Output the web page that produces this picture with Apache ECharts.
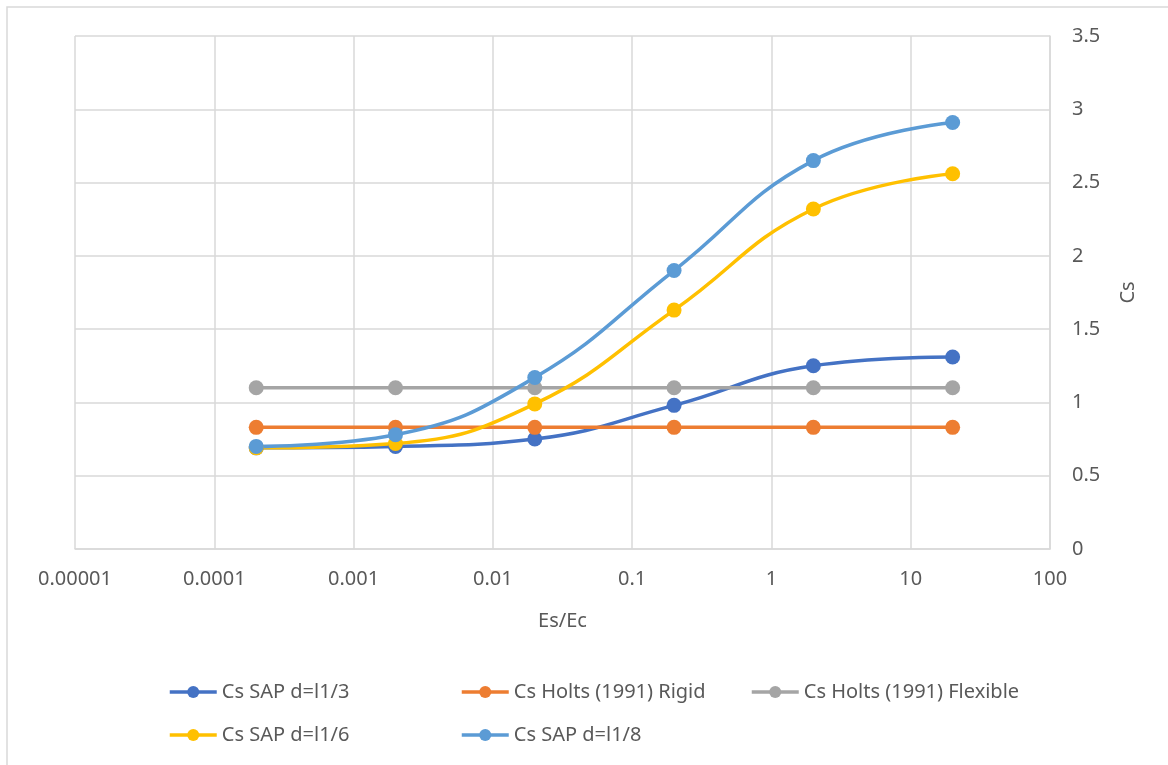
<!DOCTYPE html>
<html>
<head>
<meta charset="utf-8">
<script src="https://cdn.jsdelivr.net/npm/echarts@6/dist/echarts.min.js"></script>
<style>
  html, body { margin: 0; padding: 0; background: #fff; }
  #chart { width: 1168px; height: 765px; }
</style>
</head>
<body>
<div id="chart"></div>
<script>
// x values (Es/Ec) and the Cs values of each series
const esEc = [0.0002, 0.002, 0.02, 0.2, 2, 20];
const sapL3 = [0.69, 0.70, 0.75, 0.98, 1.25, 1.31];
const holtsRigid = [0.83, 0.83, 0.83, 0.83, 0.83, 0.83];
const holtsFlexible = [1.1, 1.1, 1.1, 1.1, 1.1, 1.1];
const sapL6 = [0.69, 0.72, 0.99, 1.63, 2.32, 2.56];
const sapL8 = [0.70, 0.78, 1.17, 1.90, 2.65, 2.91];

const seriesNames = ['Cs SAP d=l1/3', 'Cs Holts (1991) Rigid', 'Cs Holts (1991) Flexible', 'Cs SAP d=l1/6', 'Cs SAP d=l1/8'];
const seriesColors = ['#4472C4', '#ED7D31', '#A5A5A5', '#FFC000', '#5B9BD5'];
const xTickLabels = ['0.00001', '0.0001', '0.001', '0.01', '0.1', '1', '10', '100'];

const textColor = '#595959';
const gridColor = '#d9d9d9';
const font = 'Noto Sans';

function pairs(ys) {
  return esEc.map((x, i) => [x, ys[i]]);
}

const allData = [sapL3, holtsRigid, holtsFlexible, sapL6, sapL8];

const series = allData.map((ys, i) => ({
  name: seriesNames[i],
  type: 'line',
  data: pairs(ys),
  smooth: 0.45,
  symbol: 'circle',
  symbolSize: 15,
  color: seriesColors[i],
  lineStyle: { width: 3.5 }
}));

// one legend per entry, so the columns line up like the original
const legendSpots = [
  { left: 163, top: 677 },
  { left: 455, top: 677 },
  { left: 745, top: 677 },
  { left: 163, top: 720 },
  { left: 455, top: 720 }
];
const legends = seriesNames.map((n, i) => ({
  data: [n],
  left: legendSpots[i].left,
  top: legendSpots[i].top,
  itemWidth: 47,
  itemHeight: 15,
  itemGap: 0,
  lineStyle: { width: 3.5 },
  textStyle: { color: textColor, fontSize: 20, fontFamily: font }
}));

const chart = echarts.init(document.getElementById('chart'));
chart.setOption({
  animation: false,
  backgroundColor: '#fff',
  grid: { left: 75, right: 118, top: 36, bottom: 216 },
  legend: legends,
  graphic: [{
    type: 'rect',
    shape: { x: 7, y: 7, width: 1200, height: 800 },
    style: { fill: 'none', stroke: gridColor, lineWidth: 1.5 },
    silent: true
  }],
  xAxis: {
    type: 'log',
    logBase: 10,
    min: 0.00001,
    max: 100,
    name: 'Es/Ec',
    nameLocation: 'middle',
    nameGap: 62,
    nameTextStyle: { color: textColor, fontSize: 20, fontFamily: font },
    axisLine: { show: true, lineStyle: { color: gridColor, width: 1.5 } },
    axisTick: { show: false },
    splitLine: { show: true, lineStyle: { color: gridColor, width: 1.5 } },
    axisLabel: {
      color: textColor,
      fontSize: 20,
      fontFamily: font,
      margin: 20,
      formatter: v => xTickLabels[Math.round(Math.log10(v)) + 5]
    }
  },
  yAxis: {
    type: 'value',
    position: 'right',
    min: 0,
    max: 3.5,
    interval: 0.5,
    name: 'Cs',
    nameLocation: 'middle',
    nameGap: 68,
    nameRotate: 90,
    nameTextStyle: { color: textColor, fontSize: 20, fontFamily: font },
    axisLine: { show: true, lineStyle: { color: gridColor, width: 1.5 } },
    axisTick: { show: false },
    splitLine: { show: true, lineStyle: { color: gridColor, width: 1.5 } },
    axisLabel: { color: textColor, fontSize: 20, fontFamily: font, margin: 22 }
  },
  series: series
});
</script>
</body>
</html>
